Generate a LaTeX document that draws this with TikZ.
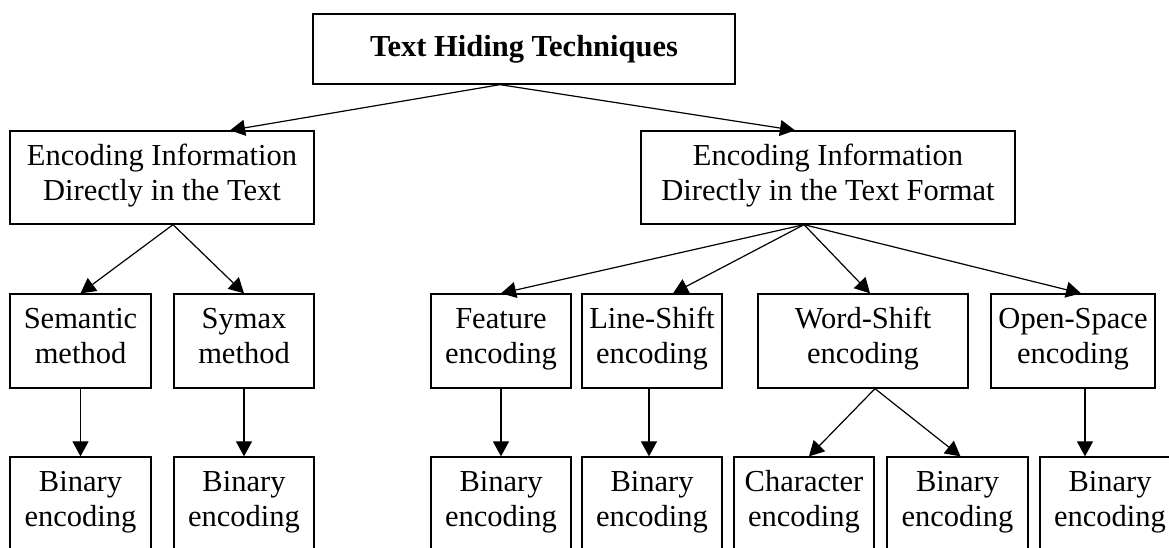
\documentclass[tikz,border=0pt]{standalone}
\usepackage{fontspec}
\setmainfont{Liberation Serif}
\usetikzlibrary{arrows.meta}

\begin{document}
\begin{tikzpicture}[x=1pt,y=-1pt,
    box/.style={draw,line width=1.3pt,inner sep=0pt,align=center,
      minimum height=94pt,font=\fontsize{30.5}{35}\selectfont,
      execute at begin node=\strut,execute at end node=\strut},
    arr/.style={-{Triangle[length=15pt,width=16pt]},line width=1.2pt}]
  \useasboundingbox (0,0) rectangle (1169,547);
  \clip (0,0) rectangle (1169,547);

  % root
  \node[box,minimum width=422pt,minimum height=70pt,font=\fontsize{30.5}{35}\selectfont\bfseries]
    (top) at (524,49) {Text Hiding Techniques};

  % first level
  \node[box,minimum width=304pt,minimum height=93pt] (intext) at (162,177.5)
    {Encoding Information\\Directly in the Text};
  \node[box,minimum width=374pt,minimum height=93pt] (informat) at (828,177.5)
    {Encoding Information\\Directly in the Text Format};

  % methods
  \node[box,minimum width=141pt] (sem)  at (80.5,341) {Semantic\\method};
  \node[box,minimum width=140pt] (syn)  at (244,341)  {Symax\\method};
  \node[box,minimum width=140pt] (feat) at (501,341)  {Feature\\encoding};
  \node[box,minimum width=140pt] (line) at (652,341)  {Line-Shift\\encoding};
  \node[box,minimum width=210pt] (word) at (863,341)  {Word-Shift\\encoding};
  \node[box,minimum width=164pt] (open) at (1073,341) {Open-Space\\encoding};

  % leaves
  \node[box,minimum width=141pt] (semb)  at (80.5,504)  {Binary\\encoding};
  \node[box,minimum width=140pt] (synb)  at (244,504)   {Binary\\encoding};
  \node[box,minimum width=140pt] (featb) at (501,504)   {Binary\\encoding};
  \node[box,minimum width=140pt] (lineb) at (652,504)   {Binary\\encoding};
  \node[box,minimum width=140pt] (charb) at (804,504)   {Character\\encoding};
  \node[box,minimum width=141pt] (wordb) at (957.5,504) {Binary\\encoding};
  \node[box,minimum width=140pt] (openb) at (1110,504)  {Binary\\encoding};

  % connectors
  \draw[arr] ([xshift=-24pt]top.south) -- ([xshift=68pt]intext.north);
  \draw[arr] ([xshift=-24pt]top.south) -- ([xshift=-33pt]informat.north);

  \draw[arr] ([xshift=11pt]intext.south) -- (sem.north);
  \draw[arr] ([xshift=11pt]intext.south) -- (syn.north);

  \draw[arr] ([xshift=-24pt]informat.south) -- (feat.north);
  \draw[arr] ([xshift=-24pt]informat.south) -- ([xshift=21pt]line.north);
  \draw[arr] ([xshift=-24pt]informat.south) -- ([xshift=7pt]word.north);
  \draw[arr] ([xshift=-24pt]informat.south) -- ([xshift=8pt]open.north);

  \draw[arr] (sem) -- (semb);
  \draw[arr] (syn) -- (synb);
  \draw[arr] (feat) -- (featb);
  \draw[arr] ([xshift=-3pt]line.south) -- ([xshift=-3pt]lineb.north);
  \draw[arr] ([xshift=12pt]word.south) -- ([xshift=5pt]charb.north);
  \draw[arr] ([xshift=12pt]word.south) -- ([xshift=3pt]wordb.north);
  \draw[arr] ([xshift=12pt]open.south) -- ([xshift=-25pt]openb.north);
\end{tikzpicture}
\end{document}
